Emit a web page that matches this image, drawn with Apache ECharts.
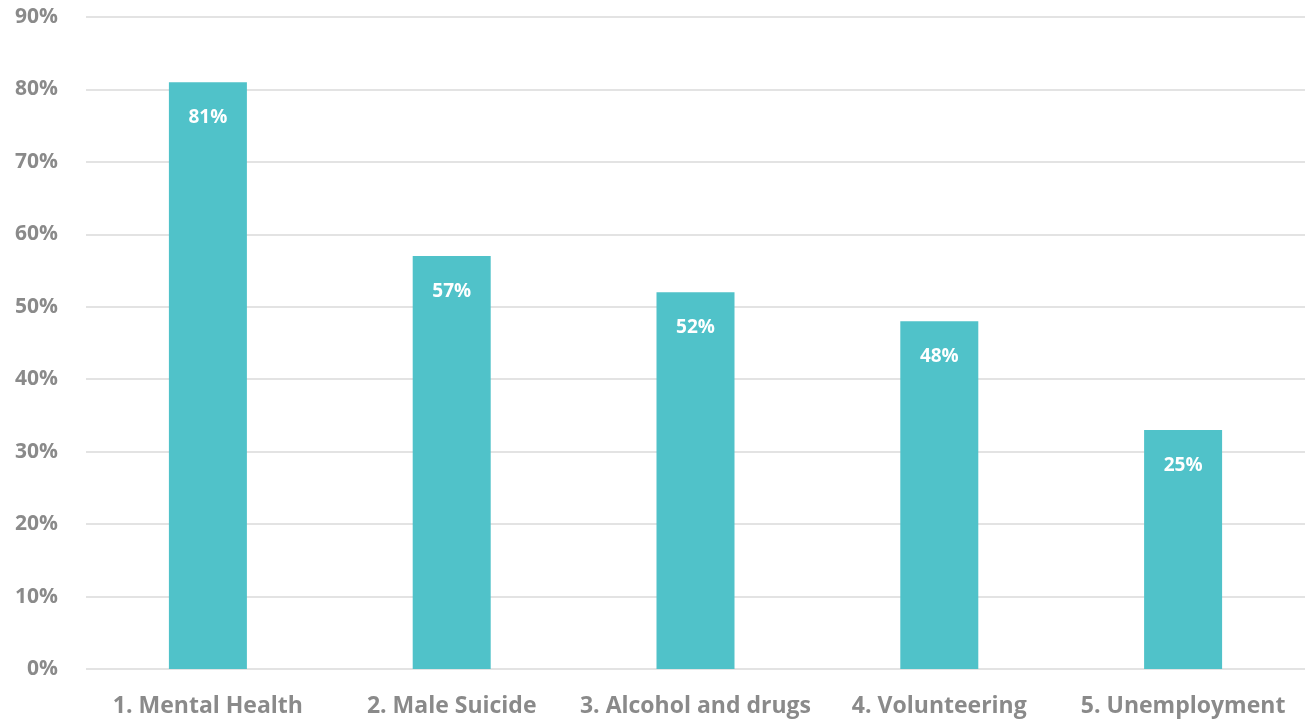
<!DOCTYPE html>
<html>
<head>
<meta charset="utf-8">
<script src="https://cdn.jsdelivr.net/npm/echarts@6/dist/echarts.min.js"></script>
<style>html,body{margin:0;padding:0;background:#fff}#c{width:1305px;height:721px}</style>
</head>
<body>
<div id="c"></div>
<script>
const categories = ["1. Mental Health", "2. Male Suicide", "3. Alcohol and drugs", "4. Volunteering", "5. Unemployment"];
const values = [81, 57, 52, 48, 33];
const barLabels = ["81%", "57%", "52%", "48%", "25%"];

const chart = echarts.init(document.getElementById('c'), null, {renderer: 'canvas'});
chart.setOption({
  animation: false,
  grid: {left: 86, width: 1223, top: 17, bottom: 52, containLabel: false},
  xAxis: {
    type: 'category',
    data: categories,
    axisLine: {show: false},
    axisTick: {show: false},
    axisLabel: {interval: 0, margin: 26, color: '#8a8a8a', fontSize: 23, fontWeight: 'bold', fontFamily: 'Open Sans'}
  },
  yAxis: {
    type: 'value',
    min: 0, max: 90, interval: 10,
    axisLine: {show: false},
    axisTick: {show: false},
    axisLabel: {margin: 28, color: '#8a8a8a', fontSize: 21, fontWeight: 'bold', fontFamily: 'Open Sans', formatter: '{value}%'},
    splitLine: {lineStyle: {color: '#e3e3e3', width: 2}}
  },
  series: [{
    type: 'bar',
    data: values,
    barWidth: 78,
    itemStyle: {color: '#50c2c9'},
    label: {
      show: true,
      position: 'insideTop',
      distance: 26,
      color: '#ffffff',
      fontSize: 19,
      fontWeight: 'bold',
      fontFamily: 'Open Sans',
      formatter: p => barLabels[p.dataIndex]
    }
  }]
});
</script>
</body>
</html>
